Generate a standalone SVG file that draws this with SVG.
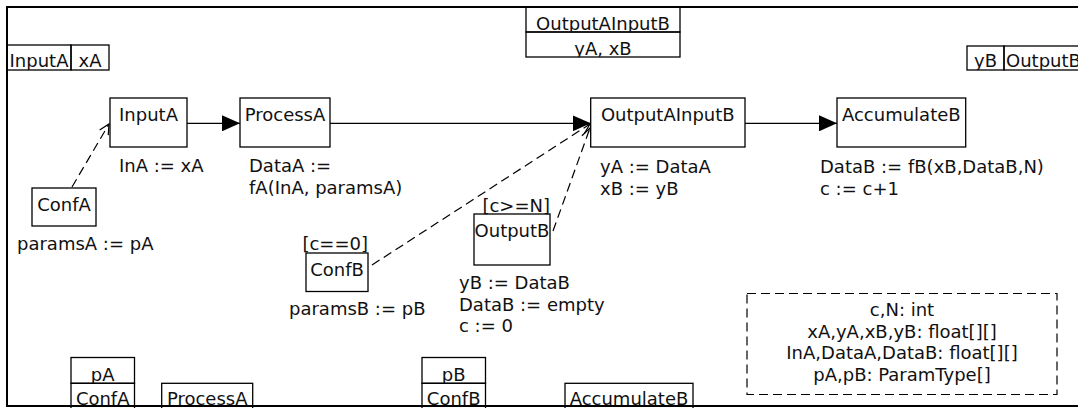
<svg xmlns="http://www.w3.org/2000/svg" width="1078" height="408" viewBox="0 0 1078 408">
<style>
.t{font-family:"DejaVu Sans","Noto Sans",sans-serif;font-size:18px;fill:#111}
.m{text-anchor:middle}
.e{text-anchor:end}
.box{fill:#fff;stroke:#000;stroke-width:1.3}
.cell{fill:none;stroke:#000;stroke-width:1.3}
.frame{fill:none;stroke:#000;stroke-width:2}
.solid{fill:none;stroke:#000;stroke-width:1.3}
.dash{fill:none;stroke:#000;stroke-width:1.2;stroke-dasharray:9 5}
</style>
<defs>
<marker id="tri" markerUnits="userSpaceOnUse" markerWidth="18" markerHeight="16" viewBox="0 0 18 16" refX="18" refY="8" orient="auto"><path d="M0,0 L18,8 L0,16 Z" fill="#000"/></marker>
<marker id="open" markerUnits="userSpaceOnUse" markerWidth="12" markerHeight="12" viewBox="0 0 12 12" refX="11" refY="6" orient="auto"><path d="M1,1 L11,6 L1,11" fill="none" stroke="#000" stroke-width="1.2"/></marker>
<clipPath id="c1" clipPathUnits="userSpaceOnUse"><rect x="7" y="45" width="64" height="25"/></clipPath>
<clipPath id="c2" clipPathUnits="userSpaceOnUse"><rect x="71" y="45" width="38" height="25"/></clipPath>
<clipPath id="c3" clipPathUnits="userSpaceOnUse"><rect x="526" y="7" width="154" height="25"/></clipPath>
<clipPath id="c4" clipPathUnits="userSpaceOnUse"><rect x="526" y="32" width="154" height="25"/></clipPath>
<clipPath id="c5" clipPathUnits="userSpaceOnUse"><rect x="967" y="46" width="37" height="24"/></clipPath>
<clipPath id="c6" clipPathUnits="userSpaceOnUse"><rect x="1004" y="46" width="80" height="24"/></clipPath>
<clipPath id="c7" clipPathUnits="userSpaceOnUse"><rect x="71" y="357" width="64" height="26"/></clipPath>
<clipPath id="c8" clipPathUnits="userSpaceOnUse"><rect x="422" y="357" width="64" height="26"/></clipPath>
<clipPath id="cb" clipPathUnits="userSpaceOnUse"><rect x="0" y="383" width="1078" height="23"/></clipPath>
</defs>

<!-- frame -->
<g id="frame">
<path class="frame" d="M1078,7 H7 V406 H1078"/>
</g>

<!-- lifeline header and footer boxes -->
<g id="hdr-inputA">
<rect class="cell" x="7" y="45" width="64" height="25"/>
<rect class="cell" x="71" y="45" width="38" height="25"/>
<text class="t m" x="39" y="67.3" clip-path="url(#c1)">InputA</text>
<text class="t m" x="90" y="67.3" clip-path="url(#c2)">xA</text>
</g>
<g id="hdr-outputAinputB">
<rect class="cell" x="526" y="7" width="154" height="25"/>
<rect class="cell" x="526" y="32" width="154" height="25"/>
<text class="t m" x="603" y="29.6" clip-path="url(#c3)">OutputAInputB</text>
<text class="t m" x="603" y="55" clip-path="url(#c4)">yA, xB</text>
</g>
<g id="hdr-outputB">
<rect class="cell" x="967" y="46" width="37" height="24"/>
<rect class="cell" x="1004" y="46" width="80" height="24"/>
<text class="t m" x="985.5" y="67.3" clip-path="url(#c5)">yB</text>
<text class="t" x="1006" y="67.3" clip-path="url(#c6)">OutputB</text>
</g>
<g id="ftr-confA">
<rect class="cell" x="71" y="357.5" width="63.5" height="25.8"/>
<rect class="cell" x="71" y="383.3" width="63.5" height="30"/>
<text class="t m" x="102.7" y="380.5" clip-path="url(#c7)">pA</text>
<text class="t m" x="102.7" y="405" clip-path="url(#cb)">ConfA</text>
</g>
<g id="ftr-processA">
<rect class="cell" x="161.7" y="383.3" width="91" height="30"/>
<text class="t m" x="207.2" y="405" clip-path="url(#cb)">ProcessA</text>
</g>
<g id="ftr-confB">
<rect class="cell" x="422" y="357.5" width="63.5" height="25.8"/>
<rect class="cell" x="422" y="383.3" width="63.5" height="30"/>
<text class="t m" x="453.7" y="380.5" clip-path="url(#c8)">pB</text>
<text class="t m" x="453.7" y="405" clip-path="url(#cb)">ConfB</text>
</g>
<g id="ftr-accumulateB">
<rect class="cell" x="565" y="383.3" width="128" height="30"/>
<text class="t m" x="629" y="405" clip-path="url(#cb)">AccumulateB</text>
</g>
<path class="frame" d="M7,406 H1078"/>

<!-- connectors -->
<g id="connectors">
<line class="solid" x1="187" y1="123.3" x2="240" y2="123.3" marker-end="url(#tri)"/>
<line class="solid" x1="330" y1="123.3" x2="590.7" y2="123.3" marker-end="url(#tri)"/>
<line class="solid" x1="745" y1="123.3" x2="837" y2="123.3" marker-end="url(#tri)"/>
<line class="dash" x1="72" y1="187" x2="109" y2="124" marker-end="url(#open)"/>
<line class="dash" x1="372" y1="265" x2="590" y2="124" marker-end="url(#open)"/>
<line class="dash" x1="553" y1="231" x2="590" y2="128" marker-end="url(#open)"/>
</g>

<!-- nodes -->
<g id="node-inputA">
<rect class="box" x="110" y="98" width="77" height="49"/>
<text class="t m" x="148.5" y="120.5">InputA</text>
<text class="t" x="119" y="172">InA := xA</text>
</g>
<g id="node-processA">
<rect class="box" x="240" y="98" width="90" height="49"/>
<text class="t m" x="285" y="120.5">ProcessA</text>
<text class="t" x="249" y="172">DataA :=</text>
<text class="t" x="249" y="193.5">fA(InA, paramsA)</text>
</g>
<g id="node-outputAinputB">
<rect class="box" x="590.7" y="98" width="154.3" height="49"/>
<text class="t m" x="667.8" y="120.5">OutputAInputB</text>
<text class="t" x="600" y="173">yA := DataA</text>
<text class="t" x="600" y="194.5">xB := yB</text>
</g>
<g id="node-accumulateB">
<rect class="box" x="837" y="98" width="128.7" height="49"/>
<text class="t m" x="901.3" y="120.5">AccumulateB</text>
<text class="t" x="820" y="173">DataB := fB(xB,DataB,N)</text>
<text class="t" x="820" y="194.5">c := c+1</text>
</g>
<g id="node-confA">
<rect class="box" x="32" y="188" width="64" height="38"/>
<text class="t m" x="64" y="211">ConfA</text>
<text class="t" x="17" y="250">paramsA := pA</text>
</g>
<g id="node-confB">
<rect class="box" x="306" y="253" width="62" height="38.5"/>
<text class="t e" x="368" y="250">[c==0]</text>
<text class="t m" x="337" y="275.5">ConfB</text>
<text class="t" x="289" y="315">paramsB := pB</text>
</g>
<g id="node-outputB">
<rect class="box" x="474" y="214" width="76" height="51"/>
<text class="t e" x="550" y="211.5">[c&gt;=N]</text>
<text class="t m" x="512" y="236.7">OutputB</text>
<text class="t" x="459" y="289">yB := DataB</text>
<text class="t" x="459" y="310.5">DataB := empty</text>
<text class="t" x="459" y="332">c := 0</text>
</g>

<!-- legend -->
<g id="legend">
<rect x="747" y="293.5" width="310" height="101" fill="none" stroke="#000" stroke-width="1.2" stroke-dasharray="9 5"/>
<text class="t m" x="902" y="316">c,N: int</text>
<text class="t m" x="902" y="337.5">xA,yA,xB,yB: float[][]</text>
<text class="t m" x="902" y="359">InA,DataA,DataB: float[][]</text>
<text class="t m" x="902" y="380.5">pA,pB: ParamType[]</text>
</g>
</svg>
